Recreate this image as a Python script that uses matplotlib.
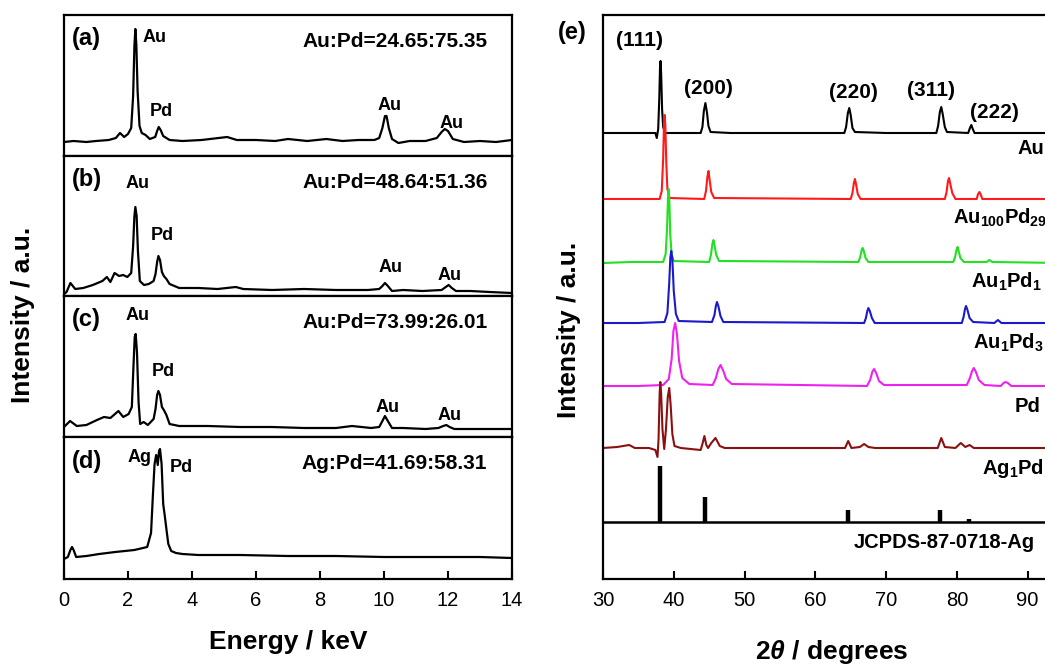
import matplotlib
matplotlib.use("Agg")
import matplotlib.pyplot as plt

plt.rcParams['font.family'] = ['Liberation Sans', 'DejaVu Sans']
plt.rcParams['mathtext.fontset'] = 'custom'
plt.rcParams['mathtext.rm'] = 'Liberation Sans:bold'
plt.rcParams['mathtext.bf'] = 'Liberation Sans:bold'
plt.rcParams['mathtext.it'] = 'Liberation Sans:bold:italic'

# ---------------- EDS data (energy keV, intensity a.u.) ----------------
eds_a_E = [0.0, 0.3, 0.7, 1.0, 1.4, 1.62, 1.75, 1.88, 2.0, 2.1, 2.16, 2.2, 2.23, 2.26, 2.3, 2.36, 2.43, 2.55, 2.68, 2.85, 2.91, 2.96, 3.02, 3.1, 3.3, 3.7, 4.3, 5.1, 5.4, 6.0, 6.6, 7.0, 7.6, 8.2, 8.7, 9.2, 9.7, 9.85, 9.95, 10.03, 10.08, 10.15, 10.25, 10.45, 10.8, 11.3, 11.65, 11.8, 11.9, 12.0, 12.15, 12.5, 13.0, 13.5, 14.0]
eds_a_I = [14, 15, 14, 15, 16, 18, 23, 19, 22, 28, 60, 110, 127, 112, 65, 30, 23, 21, 17, 19, 25, 29, 26, 20, 16, 15, 16, 19, 16, 16, 15, 17, 15, 17, 15, 16, 16, 18, 28, 40, 40, 28, 17, 13, 15, 15, 18, 24, 27, 25, 17, 14, 15, 14, 16]

eds_b_E = [0.0, 0.08, 0.2, 0.35, 0.6, 0.9, 1.2, 1.34, 1.45, 1.58, 1.72, 1.85, 1.98, 2.1, 2.16, 2.2, 2.23, 2.27, 2.31, 2.37, 2.5, 2.65, 2.8, 2.86, 2.91, 2.95, 3.0, 3.06, 3.12, 3.2, 3.3, 3.6, 4.2, 4.8, 5.37, 5.6, 6.5, 7.5, 8.5, 9.5, 9.85, 9.95, 10.03, 10.12, 10.25, 10.6, 11.2, 11.8, 11.93, 12.02, 12.12, 12.25, 12.7, 13.3, 14.0]
eds_b_I = [2, 4, 13, 7, 8, 11, 15, 19, 14, 23, 20, 21, 19, 23, 50, 80, 89, 80, 45, 15, 11, 12, 15, 22, 34, 40, 36, 24, 20, 17, 12, 8, 8, 7, 9, 7, 6, 7, 6, 6, 7, 10, 13, 10, 5, 6, 5, 6, 9, 11, 8, 5, 5, 4, 3]

eds_c_E = [0.0, 0.19, 0.4, 0.7, 1.03, 1.25, 1.45, 1.7, 1.85, 2.02, 2.12, 2.17, 2.21, 2.24, 2.28, 2.33, 2.38, 2.49, 2.62, 2.8, 2.86, 2.91, 2.95, 3.0, 3.06, 3.12, 3.2, 3.3, 3.6, 4.5, 5.5, 6.5, 7.5, 8.5, 9.0, 9.6, 9.85, 9.95, 10.03, 10.12, 10.25, 10.6, 11.3, 11.7, 11.85, 11.95, 12.05, 12.2, 12.7, 13.3, 14.0]
eds_c_I = [10, 16, 11, 12, 17, 20, 19, 26, 20, 23, 30, 70, 100, 103, 85, 35, 13, 15, 12, 18, 28, 42, 46, 42, 30, 27, 22, 13, 11, 11, 10, 10, 9, 9, 11, 9, 10, 16, 21, 16, 9, 9, 8, 9, 11, 12, 10, 8, 8, 8, 8]

eds_d_E = [0.0, 0.12, 0.2, 0.25, 0.3, 0.38, 0.7, 1.1, 1.6, 2.2, 2.6, 2.72, 2.78, 2.83, 2.88, 2.93, 2.97, 3.0, 3.05, 3.1, 3.15, 3.2, 3.26, 3.35, 3.5, 3.7, 4.2, 5.5, 7.0, 8.5, 10.0, 11.5, 13.0, 14.0]
eds_d_I = [20, 22, 29, 32, 29, 22, 23, 25, 27, 29, 32, 46, 85, 115, 124, 114, 128, 130, 115, 75, 63, 50, 35, 28, 26, 25, 24, 24, 23, 23, 22, 22, 22, 21]

eds_panels = ['(a)', '(b)', '(c)', '(d)']
eds_ratios = ['Au:Pd=24.65:75.35', 'Au:Pd=48.64:51.36', 'Au:Pd=73.99:26.01', 'Ag:Pd=41.69:58.31']
# peak labels: (text, energy, intensity, horizontal alignment)
eds_peak_labels = [
    [('Au', 2.45, 119, 'left'), ('Pd', 3.03, 44, 'center'), ('Au', 10.16, 50, 'center'), ('Au', 12.1, 33, 'center')],
    [('Au', 2.29, 113, 'center'), ('Pd', 3.08, 61, 'center'), ('Au', 10.19, 29, 'center'), ('Au', 12.04, 20, 'center')],
    [('Au', 2.29, 122, 'center'), ('Pd', 3.09, 65, 'center'), ('Au', 10.1, 30, 'center'), ('Au', 12.04, 21, 'center')],
    [('Ag', 2.35, 122, 'center'), ('Pd', 3.66, 111, 'center')],
]
eds_xticks = [0, 2, 4, 6, 8, 10, 12, 14]

# ---------------- XRD data (2theta degrees, offset intensity a.u.) ----------------
xrd_au_x = [30, 33, 36, 37.4, 37.6, 37.8, 37.95, 38.05, 38.13, 38.22, 38.35, 38.5, 38.8, 40, 42, 43.8, 44.05, 44.25, 44.47, 44.7, 44.9, 45.2, 48, 52, 56, 60, 64.1, 64.35, 64.6, 64.8, 65.0, 65.25, 65.6, 70, 74, 77.1, 77.35, 77.6, 77.8, 78.0, 78.3, 78.6, 81.6, 81.85, 82.05, 82.25, 82.5, 86, 90, 95]
xrd_au_y = [446, 446, 446, 446, 441, 450, 480, 510, 518, 505, 470, 452, 446, 446, 446, 446, 452, 468, 476, 466, 453, 447, 446, 446, 446, 446, 446, 452, 466, 471, 464, 451, 447, 446, 446, 446, 453, 467, 472, 465, 452, 447, 446, 451, 454, 450, 446, 446, 446, 446]

xrd_au100_x = [30, 35, 38.0, 38.3, 38.5, 38.62, 38.7, 38.8, 38.95, 39.1, 39.4, 44.3, 44.55, 44.75, 44.9, 45.05, 45.3, 45.7, 65.0, 65.25, 65.45, 65.6, 65.75, 66.0, 66.4, 78.3, 78.55, 78.75, 78.9, 79.05, 79.35, 79.8, 82.8, 83.0, 83.2, 83.4, 83.6, 95]
xrd_au100_y = [380, 380, 380, 388, 420, 455, 464, 455, 415, 390, 381, 380, 388, 402, 408, 400, 387, 381, 380, 386, 396, 400, 395, 385, 380, 380, 387, 398, 401, 396, 386, 380, 380, 385, 387, 384, 380, 380]

xrd_au1pd1_x = [30, 34, 38.5, 38.85, 39.05, 39.18, 39.27, 39.37, 39.5, 39.7, 40.0, 45.0, 45.25, 45.45, 45.6, 45.75, 46.0, 46.4, 66.1, 66.35, 66.55, 66.7, 66.85, 67.1, 67.5, 79.5, 79.75, 79.95, 80.1, 80.25, 80.5, 81.0, 84.2, 84.6, 85.0, 95]
xrd_au1pd1_y = [316, 317, 317, 325, 350, 380, 390, 380, 345, 324, 318, 317, 324, 335, 339, 334, 324, 318, 317, 322, 329, 331, 328, 321, 317, 317, 322, 329, 332, 328, 321, 317, 317, 319, 317, 316]

xrd_au1pd3_x = [30, 35, 38.7, 39.1, 39.35, 39.52, 39.65, 39.8, 40.0, 40.3, 40.7, 45.4, 45.75, 45.95, 46.1, 46.3, 46.6, 47.0, 66.9, 67.15, 67.35, 67.5, 67.7, 68.0, 68.4, 80.7, 80.95, 81.15, 81.3, 81.5, 81.8, 82.3, 85.3, 85.8, 86.3, 95]
xrd_au1pd3_y = [256, 256, 257, 266, 295, 322, 328, 320, 288, 265, 258, 257, 264, 273, 277, 273, 263, 257, 256, 261, 268, 271, 268, 261, 256, 256, 262, 270, 273, 269, 261, 257, 256, 259, 256, 256]

xrd_pd_x = [30, 35, 38.5, 39.3, 39.7, 39.95, 40.2, 40.45, 40.75, 41.2, 42.2, 45.5, 45.95, 46.3, 46.6, 46.95, 47.4, 48.2, 67.3, 67.75, 68.05, 68.3, 68.6, 69.0, 69.7, 81.4, 81.85, 82.15, 82.4, 82.7, 83.1, 83.9, 86.2, 86.6, 86.9, 87.2, 87.7, 95]
xrd_pd_y = [193, 193, 194, 200, 220, 248, 256, 245, 218, 201, 195, 194, 201, 210, 214, 209, 200, 195, 193, 199, 207, 210, 206, 198, 194, 194, 201, 208, 211, 207, 199, 194, 193, 196, 197, 196, 193, 193]

xrd_ag1pd_x = [30, 32, 33.7, 34.5, 36.5, 37.4, 37.7, 37.85, 38.0, 38.1, 38.22, 38.4, 38.65, 38.9, 39.15, 39.36, 39.55, 39.8, 40.1, 41, 43.8, 44.05, 44.33, 44.6, 44.85, 45.3, 45.9, 46.5, 47.2, 55, 64.2, 64.65, 65.1, 66.3, 66.9, 67.5, 68.5, 77.3, 77.8, 78.3, 79.8, 80.55, 81.2, 81.8, 82.4, 95]
xrd_ag1pd_y = [131, 132, 134, 131, 131, 129, 122, 140, 185, 197, 185, 150, 130, 150, 182, 191, 175, 145, 133, 131, 129, 135, 143, 134, 131, 136, 141, 133, 131, 131, 131, 138, 131, 132, 135, 132, 131, 131, 141, 132, 131, 136, 132, 134, 131, 131]

jcpds_pos = [38.1, 44.45, 64.55, 77.55, 81.65]
jcpds_top = [113, 82, 69, 69, 60]
jcpds_base = 57

xrd_names = ['Au', r'Au$_{\mathbf{100}}$Pd$_{\mathbf{29}}$', r'Au$_{\mathbf{1}}$Pd$_{\mathbf{1}}$',
             r'Au$_{\mathbf{1}}$Pd$_{\mathbf{3}}$', 'Pd', r'Ag$_{\mathbf{1}}$Pd$_{\mathbf{1}}$']
xrd_xs = [xrd_au_x, xrd_au100_x, xrd_au1pd1_x, xrd_au1pd3_x, xrd_pd_x, xrd_ag1pd_x]
xrd_ys = [xrd_au_y, xrd_au100_y, xrd_au1pd1_y, xrd_au1pd3_y, xrd_pd_y, xrd_ag1pd_y]
xrd_colors = ['#000000', '#ff1a1a', '#22e022', '#1a1acc', '#ee22ee', '#8b1010']
xrd_name_pos = [(88.6, 431), (79.5, 361), (82.0, 297), (82.3, 236), (88.1, 173), (83.5, 111)]
jcpds_name = 'JCPDS-87-0718-Ag'
jcpds_name_pos = (65.4, 36)
hkl_labels = ['(111)', '(200)', '(220)', '(311)', '(222)']
hkl_pos = [(35.2, 539), (44.9, 491), (65.4, 487), (76.4, 488), (85.3, 467)]
xrd_xticks = [30, 40, 50, 60, 70, 80, 90]

# ---------------- figure ----------------
W, H = 1045, 664
fig = plt.figure(figsize=(W / 100, H / 100), dpi=100)

def fx(px):
    return px / W

def fy(py):
    return 1 - py / H

left_px, right_px = 64, 512
tops = [15, 156, 296, 437]
bots = [156, 296, 437, 579]
eds_E = [eds_a_E, eds_b_E, eds_c_E, eds_d_E]
eds_I = [eds_a_I, eds_b_I, eds_c_I, eds_d_I]

for i in range(4):
    ax = fig.add_axes([fx(left_px), fy(bots[i]), fx(right_px - left_px), (bots[i] - tops[i]) / H])
    ax.plot(eds_E[i], eds_I[i], color='black', lw=1.6)
    ax.set_xlim(0, 14)
    ax.set_ylim(0, bots[i] - tops[i])
    ax.set_yticks([])
    for s in ax.spines.values():
        s.set_linewidth(1.6)
    if i < 3:
        ax.set_xticks([])
    else:
        ax.set_xticks(eds_xticks)
        ax.tick_params(axis='x', direction='in', length=6, width=1.5, labelsize=14.5, pad=9)
    ax.text(0.018, 0.83, eds_panels[i], transform=ax.transAxes, fontsize=17, fontweight='bold',
            ha='left', va='center')
    ax.text(0.945, 0.81, eds_ratios[i], transform=ax.transAxes, fontsize=15, fontweight='bold',
            ha='right', va='center')
    for (t, e, v, ha) in eds_peak_labels[i]:
        ax.text(e, v, t, fontsize=13, fontweight='bold', ha=ha, va='center')

fig.text(fx(288), fy(642), 'Energy / keV', fontsize=19, fontweight='bold', ha='center', va='center')
fig.text(fx(23), fy(315), 'Intensity / a.u.', fontsize=19, fontweight='bold', ha='center', va='center',
         rotation=90)

# XRD axes (extends past the right edge of the figure, as in the reference)
x0_px, x1_px = 603, 1063
axr = fig.add_axes([fx(x0_px), fy(579), fx(x1_px - x0_px), 564 / H])
axr.set_xlim(30, 95)
axr.set_ylim(0, 564)
axr.set_yticks([])
for s in axr.spines.values():
    s.set_linewidth(1.6)
axr.set_xticks(xrd_xticks)
axr.tick_params(axis='x', direction='in', length=6, width=1.5, labelsize=14.5, pad=9)

for xs, ys, c in zip(xrd_xs, xrd_ys, xrd_colors):
    axr.plot(xs, ys, color=c, lw=1.5)
axr.vlines(jcpds_pos, jcpds_base, jcpds_top, color='black', lw=3.2)
axr.axhline(jcpds_base, color='black', lw=1.8)

for name, (px_, py_) in zip(xrd_names, xrd_name_pos):
    axr.text(px_, py_, name, fontsize=14.5, fontweight='bold', ha='left', va='center')
axr.text(jcpds_name_pos[0], jcpds_name_pos[1], jcpds_name, fontsize=14.5, fontweight='bold',
         ha='left', va='center')
for t, (px_, py_) in zip(hkl_labels, hkl_pos):
    axr.text(px_, py_, t, fontsize=15, fontweight='bold', ha='center', va='center')

fig.text(fx(572), fy(32), '(e)', fontsize=17, fontweight='bold', ha='center', va='center')
fig.text(fx(569), fy(330), 'Intensity / a.u.', fontsize=19, fontweight='bold', ha='center', va='center',
         rotation=90)
fig.text(fx(832), fy(652), r'2$\theta$ / degrees', fontsize=19, fontweight='bold', ha='center', va='center')

fig.savefig('out.png', dpi=100)
